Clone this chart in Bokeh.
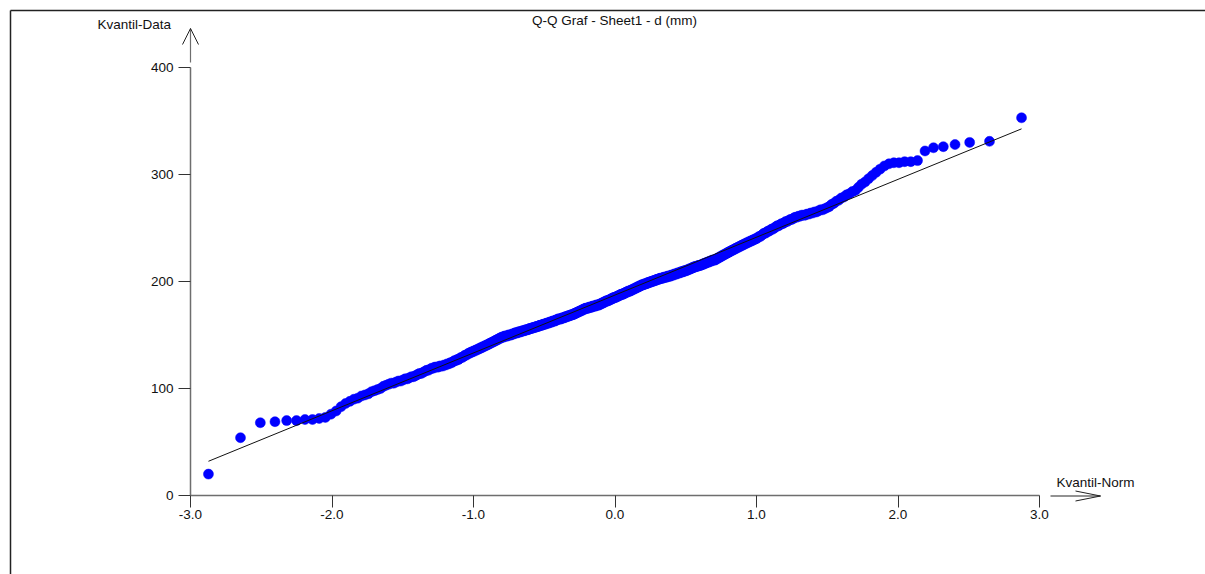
from statistics import NormalDist
import numpy as np
from bokeh.plotting import figure
from bokeh.models import (Range1d, LinearAxis, FixedTicker, PrintfTickFormatter,
                          Label, ColumnDataSource)
from bokeh.embed import file_html
from bokeh.resources import INLINE

# ---------------- data ----------------
title_text = "Q-Q Graf - Sheet1 - d (mm)"
y_label_text = "Kvantil-Data"
x_label_text = "Kvantil-Norm"
x_ticks = [-3.0, -2.0, -1.0, 0.0, 1.0, 2.0, 3.0]
y_ticks = [0, 100, 200, 300, 400]

# sorted sample values d (mm)
d_mm = [
    20, 54, 68, 69, 70, 70, 71, 71, 72, 73,
    76, 79, 83, 86, 88, 90, 91, 93, 94, 95, 97, 98,
    99, 100, 102, 103, 104, 105, 105, 106, 107, 107, 108,
    109, 109, 110, 111, 111, 112, 113, 114, 114, 115, 116, 117, 117, 118, 119,
    119, 120, 120, 120, 121, 121, 121, 122, 122,
    123, 123, 124, 124, 125, 126, 126, 127, 127, 128,
    129, 129, 130, 131, 131, 132, 133, 133, 134, 134, 135,
    135, 136, 136, 137, 137, 138, 138, 139, 139, 140, 140, 141, 141,
    142, 142, 143, 143, 144, 144, 145, 145, 146, 146, 147, 147, 148,
    148, 148, 149, 149, 149, 149, 150, 150, 150, 150, 151, 151, 151, 152, 152,
    152, 152, 153, 153, 153, 153, 154, 154, 154, 154, 155, 155, 155, 155, 156, 156,
    156, 156, 157, 157, 157, 157, 158, 158, 158, 158, 159, 159, 159, 159, 160, 160, 160,
    160, 161, 161, 161, 161, 162, 162, 162, 162, 163, 163, 163, 163, 164, 164, 164, 165, 165,
    165, 165, 165, 166, 166, 166, 166, 167, 167, 167, 167, 168, 168, 168, 168, 169, 169, 169,
    169, 170, 170, 170, 171, 171, 171, 172, 172, 172, 173, 173, 173, 174, 174, 174, 175, 175, 175,
    175, 175, 176, 176, 176, 176, 176, 177, 177, 177, 177, 177, 178, 178, 178, 178, 178, 179, 179,
    179, 180, 180, 180, 181, 181, 181, 182, 182, 182, 182, 183, 183, 183, 184, 184, 184, 185, 185, 185,
    185, 186, 186, 186, 187, 187, 187, 188, 188, 188, 188, 189, 189, 189, 190, 190, 190, 191, 191, 191,
    191, 192, 192, 192, 193, 193, 193, 194, 194, 194, 195, 195, 195, 196, 196, 196, 197, 197, 197,
    197, 198, 198, 198, 198, 199, 199, 199, 199, 200, 200, 200, 200, 201, 201, 201, 201, 202, 202,
    202, 202, 203, 203, 203, 203, 203, 204, 204, 204, 204, 204, 205, 205, 205, 205, 205, 206, 206,
    206, 206, 207, 207, 207, 207, 208, 208, 208, 208, 209, 209, 209, 209, 210, 210, 210,
    210, 211, 211, 211, 212, 212, 212, 213, 213, 213, 214, 214, 214, 214, 215, 215, 215,
    215, 216, 216, 216, 217, 217, 217, 218, 218, 218, 219, 219, 219, 220, 220, 220,
    220, 221, 221, 222, 222, 223, 223, 224, 224, 225, 225, 226, 226, 227, 227,
    228, 228, 229, 229, 230, 230, 231, 231, 232, 232, 233, 233, 234,
    234, 235, 235, 236, 236, 237, 237, 238, 238, 239, 239, 240, 240,
    241, 242, 242, 243, 244, 245, 245, 246, 247, 247, 248,
    249, 249, 250, 251, 252, 252, 253, 254, 254, 255,
    256, 256, 257, 258, 258, 259, 260, 260, 261,
    261, 262, 262, 262, 263, 263, 264, 264,
    265, 265, 266, 267, 267, 268, 269,
    270, 272, 273, 275, 276, 278,
    279, 281, 282, 284, 285,
    288, 291, 293, 296,
    299, 302, 305,
    308, 310, 311, 311, 312, 312, 313,
    322, 325, 326, 328, 330, 331, 353,
]

# ---------------- Q-Q computation ----------------
d = np.sort(np.array(d_mm, dtype=float))
n = len(d)
nd = NormalDist()
zq = np.array([nd.inv_cdf(i / (n + 1)) for i in range(1, n + 1)])
mu = float(np.mean(d))
sd = float(np.std(d, ddof=1))
line_x = [float(zq[0]), float(zq[-1])]
line_y = [mu + sd * line_x[0], mu + sd * line_x[1]]

# ---------------- geometry ----------------
W, H = 1205, 574
X_AXIS_PX = 190.0   # pixel column of x = -3
PX_PER_X = 141.5
Y_AXIS_PX = 495.0   # pixel row of y = 0
PX_PER_Y = 1.07

x_start = -3 - X_AXIS_PX / PX_PER_X
x_end = x_start + W / PX_PER_X
y_end = Y_AXIS_PX / PX_PER_Y
y_start = y_end - H / PX_PER_Y


def dx(px):
    return -3 + (px - X_AXIS_PX) / PX_PER_X


def dy(py):
    return (Y_AXIS_PX - py) / PX_PER_Y


FONT = "Liberation Sans"
FSIZE = "13.5px"

p = figure(width=W, height=H, x_range=Range1d(x_start, x_end),
           y_range=Range1d(y_start, y_end), min_border=0,
           x_axis_location=None, y_axis_location=None,
           toolbar_location=None, output_backend="svg",
           background_fill_color="white", border_fill_color="white")
p.outline_line_color = None
p.xgrid.visible = False
p.ygrid.visible = False

# frame border (left and top)
p.line([dx(10), dx(10)], [dy(10), dy(H + 5)], line_color="#222222", line_width=1.5)
p.line([dx(10), dx(W + 5)], [dy(10), dy(10)], line_color="#222222", line_width=1.5)

# axes
xaxis = LinearAxis(fixed_location=0, bounds=(x_ticks[0], x_ticks[-1]),
                   ticker=FixedTicker(ticks=x_ticks, minor_ticks=[]),
                   formatter=PrintfTickFormatter(format="%.1f"))
yaxis = LinearAxis(fixed_location=x_ticks[0], bounds=(y_ticks[0], y_ticks[-1]),
                   ticker=FixedTicker(ticks=y_ticks, minor_ticks=[]),
                   formatter=PrintfTickFormatter(format="%d"))
for ax in (xaxis, yaxis):
    ax.axis_line_color = "#6e6e6e"
    ax.axis_line_width = 1.5
    ax.major_tick_line_color = "#333333"
    ax.major_tick_line_width = 1
    ax.major_tick_out = 12
    ax.major_tick_in = 0
    ax.minor_tick_out = 0
    ax.minor_tick_in = 0
    ax.major_label_text_font = FONT
    ax.major_label_text_font_size = FSIZE
    ax.major_label_text_color = "#111111"
xaxis.major_label_standoff = 2
yaxis.major_label_standoff = 5
p.add_layout(xaxis, "below")
p.add_layout(yaxis, "left")

# axis arrows
p.line([dx(190), dx(190)], [dy(62), dy(28)], line_color="#6e6e6e", line_width=1.2)
p.line([dx(182), dx(190), dx(198)], [dy(44), dy(28), dy(44)], line_color="#222222", line_width=1)
p.line([dx(1050), dx(1100)], [dy(495.5), dy(495.5)], line_color="#6e6e6e", line_width=1.5)
p.line([dx(1075), dx(1100), dx(1075)], [dy(490.5), dy(495.5), dy(500.5)],
       line_color="#222222", line_width=1)

# data points and reference line
src = ColumnDataSource(dict(z=zq, d=d))
p.scatter("z", "d", source=src, size=10, marker="circle",
          fill_color="#0000ff", line_color="#0000ff", line_width=0.5)
p.line(line_x, line_y, line_color="#111111", line_width=1)

# texts
p.add_layout(Label(x=dx(614), y=dy(19.5), text=title_text, text_font=FONT,
                   text_font_size=FSIZE, text_align="center", text_baseline="middle",
                   text_color="#111111"))
p.add_layout(Label(x=dx(97), y=dy(24), text=y_label_text, text_font=FONT,
                   text_font_size=FSIZE, text_align="left", text_baseline="middle",
                   text_color="#111111"))
p.add_layout(Label(x=dx(1056), y=dy(482), text=x_label_text, text_font=FONT,
                   text_font_size=FSIZE, text_align="left", text_baseline="middle",
                   text_color="#111111"))

open("out.html", "w").write(file_html(p, INLINE))
